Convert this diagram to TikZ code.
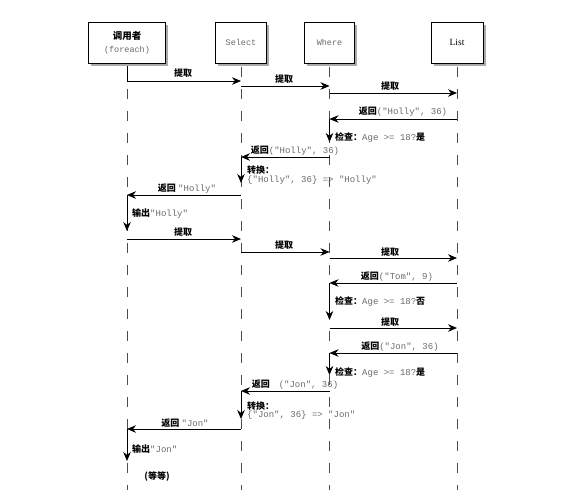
\documentclass[tikz,border=0pt]{standalone}
\usepackage{fontspec}
\setmainfont{Liberation Serif}
\newfontfamily\cjk{Noto Sans CJK SC}
\newfontfamily\code{Liberation Mono}
\usetikzlibrary{arrows.meta,shadows}
\definecolor{codegray}{gray}{0.42}
\newcommand{\zh}[1]{{\cjk\bfseries #1}}
\newcommand{\cd}[1]{{\code\color{codegray}#1}}
\begin{document}
\begin{tikzpicture}[x=1pt,y=-1pt,
  box/.style={draw, fill=white, line width=0.6pt, minimum height=41pt, inner sep=0pt, align=center,
    drop shadow={shadow xshift=2.5pt, shadow yshift=-3pt, fill=black!60, opacity=0.55}},
  life/.style={line width=0.6pt, black!70, dash pattern=on 10pt off 12pt},
  msg/.style={-{Stealth[length=9pt,width=7.5pt]}, line width=0.7pt},
  lab/.style={inner sep=0pt, font=\fontsize{9}{10}\selectfont}]
\useasboundingbox (0,0) rectangle (576,503);
% lifeline heads
\node[box, minimum width=77pt] (caller) at (127,42.5) {\zh{\fontsize{9.5}{11}\selectfont 调用者}\\[1pt]\cd{\fontsize{8.5}{10}\selectfont (foreach)}};
\node[box, minimum width=51pt] (sel) at (241,42.5) {\cd{\fontsize{8.5}{10}\selectfont Select}};
\node[box, minimum width=50pt] (where) at (329.5,42.5) {\cd{\fontsize{8.5}{10}\selectfont Where}};
\node[box, minimum width=52pt] (list) at (457,42.5) {\fontsize{9.5}{11}\selectfont List};
% lifelines
\foreach \n in {caller,sel,where,list}
  \draw[life] (\n |- 0,67) -- (\n |- 0,490);
% round 1
\draw[msg] (caller |- 0,66) -- (caller |- 0,81) -- (sel |- 0,81);
\node[lab] at (183,73) {\zh{提取}};
\draw[msg] (sel |- 0,86) -- (where |- 0,86);
\node[lab] at (284,79) {\zh{提取}};
\draw[msg] (where |- 0,93) -- (list |- 0,93);
\node[lab] at (390,86) {\zh{提取}};
\draw[msg] (list |- 0,119) -- (where |- 0,119);
\node[lab] at (403,112) {\zh{返回}\cd{("Holly", 36)}};
\draw[msg] (where |- 0,119) -- (where |- 0,142);
\node[lab, anchor=west] at (335,138) {\zh{检查：}\cd{Age >= 18?}\zh{是}};
\draw[msg] (where |- 0,157) -- (sel |- 0,157);
\node[lab] at (295,151) {\zh{返回}\cd{("Holly", 36)}};
\draw[msg] (sel |- 0,157) -- (sel |- 0,183);
\node[lab, anchor=west] at (247,170) {\zh{转换：}};
\node[lab, anchor=west] at (247,180) {\cd{\{"Holly", 36\} => "Holly"}};
\draw[msg] (sel |- 0,195) -- (caller |- 0,195);
\node[lab] at (187,189) {\zh{返回} \cd{"Holly"}};
\draw[msg] (caller |- 0,195) -- (caller |- 0,231);
\node[lab, anchor=west] at (132,214) {\zh{输出}\cd{"Holly"}};
% round 2
\draw[msg] (caller |- 0,239) -- (sel |- 0,239);
\node[lab] at (183,232) {\zh{提取}};
\draw[msg] (sel |- 0,252) -- (where |- 0,252);
\node[lab] at (284,245) {\zh{提取}};
\draw[msg] (where |- 0,258) -- (list |- 0,258);
\node[lab] at (390,252) {\zh{提取}};
\draw[msg] (list |- 0,283) -- (where |- 0,283);
\node[lab] at (397,277) {\zh{返回}\cd{("Tom", 9)}};
\draw[msg] (where |- 0,283) -- (where |- 0,320);
\node[lab, anchor=west] at (335,302) {\zh{检查：}\cd{Age >= 18?}\zh{否}};
\draw[msg] (where |- 0,328) -- (list |- 0,328);
\node[lab] at (390,322) {\zh{提取}};
\draw[msg] (list |- 0,353) -- (where |- 0,353);
\node[lab] at (400,347) {\zh{返回}\cd{("Jon", 36)}};
\draw[msg] (where |- 0,353) -- (where |- 0,375);
\node[lab, anchor=west] at (335,373) {\zh{检查：}\cd{Age >= 18?}\zh{是}};
\draw[msg] (where |- 0,391) -- (sel |- 0,391);
\node[lab] at (295,385) {\zh{返回}\quad\cd{("Jon", 36)}};
\draw[msg] (sel |- 0,391) -- (sel |- 0,419);
\node[lab, anchor=west] at (247,406) {\zh{转换：}};
\node[lab, anchor=west] at (247,415) {\cd{\{"Jon", 36\} => "Jon"}};
\draw[msg] (sel |- 0,429) -- (caller |- 0,429);
\node[lab] at (185,423) {\zh{返回} \cd{"Jon"}};
\draw[msg] (caller |- 0,429) -- (caller |- 0,461);
\node[lab, anchor=west] at (132,449) {\zh{输出}\cd{"Jon"}};
\node[lab] at (157,477) {\zh{(等等)}};
\end{tikzpicture}
\end{document}
